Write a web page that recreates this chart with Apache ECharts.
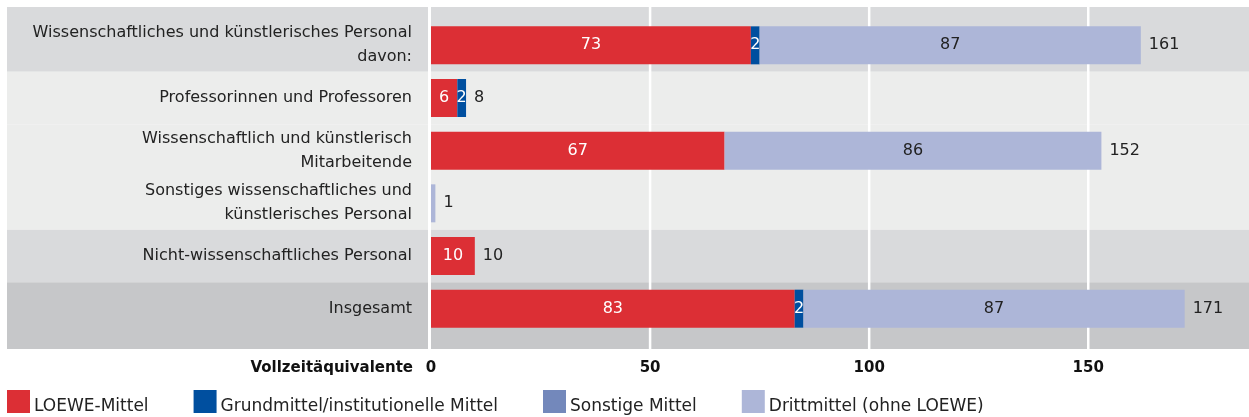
<!DOCTYPE html>
<html>
<head>
<meta charset="utf-8">
<script src="https://cdn.jsdelivr.net/npm/echarts@6/dist/echarts.min.js"></script>
<style>
    html, body { margin: 0; padding: 0; background: #fff; }
    #chart { width: 1249px; height: 417px; }
</style>
</head>
<body>
<div id="chart"></div>
<script>
const categories = [
    'Wissenschaftliches und künstlerisches Personal\ndavon:',
    'Professorinnen und Professoren',
    'Wissenschaftlich und künstlerisch\nMitarbeitende',
    'Sonstiges wissenschaftliches und\nkünstlerisches Personal',
    'Nicht-wissenschaftliches Personal',
    'Insgesamt'
];
const seriesNames = ['LOEWE-Mittel', 'Grundmittel/institutionelle Mittel', 'Sonstige Mittel', 'Drittmittel (ohne LOEWE)'];
const loewe = [73, 6, 67, null, 10, 83];
const grundmittel = [2, 2, null, null, null, 2];
const sonstige = [null, null, null, null, null, null];
const drittmittel = [87, null, 86, 1, null, 87];
const totals = [161, 8, 152, 1, 10, 171];
const xTicks = [0, 50, 100, 150];

const font = '"DejaVu Sans", sans-serif';
const bandColors = ['#d9dadc', '#ecedec', '#ecedec', '#ecedec', '#d9dadc', '#c6c7c9'];

const segLabel = (color, minVal) => ({
    show: true,
    position: 'inside',
    color: color,
    fontFamily: font,
    fontSize: 16,
    formatter: (p) => (p.value >= minVal ? p.value : '')
});

let option = {
    backgroundColor: '#fff',
    animation: false,
    textStyle: { fontFamily: font },
    grid: {
        left: 431,
        right: 0,
        top: 19,
        bottom: 82,
        containLabel: false
    },
    legend: {
        left: 7,
        top: 390,
        padding: 0,
        icon: 'rect',
        itemWidth: 23,
        itemHeight: 23,
        itemGap: 45,
        data: seriesNames,
        formatter: (name) => '{t|' + name + '}',
        textStyle: {
            fontFamily: font,
            fontSize: 17,
            color: '#222',
            rich: {
                t: {
                    fontFamily: font,
                    fontSize: 17,
                    color: '#222',
                    padding: [10, 0, 0, -1]
                }
            }
        }
    },
    xAxis: {
        type: 'value',
        min: 0,
        max: 186,
        interval: 50,
        name: 'Vollzeitäquivalente',
        nameLocation: 'start',
        nameGap: 18,
        nameTextStyle: {
            fontFamily: font,
            fontSize: 15,
            fontWeight: 'bold',
            color: '#111',
            verticalAlign: 'top',
            padding: [26, 0, 0, 0]
        },
        axisLine: { show: false },
        axisTick: { show: false },
        splitLine: { show: false },
        axisLabel: {
            margin: 26,
            fontFamily: font,
            fontSize: 15,
            fontWeight: 'bold',
            color: '#111',
            formatter: (v) => (xTicks.indexOf(v) >= 0 ? v : '')
        }
    },
    yAxis: {
        type: 'category',
        inverse: true,
        data: categories,
        axisLine: { show: false },
        axisTick: { show: false },
        axisLabel: {
            margin: 19,
            fontFamily: font,
            fontSize: 16,
            lineHeight: 24,
            color: '#222',
            align: 'right'
        }
    },
    series: [
        {
            name: seriesNames[0], type: 'bar', stack: 'a', barWidth: 38,
            itemStyle: { color: '#dc2f35' },
            label: segLabel('#fff', 1),
            data: loewe
        },
        {
            name: seriesNames[1], type: 'bar', stack: 'a', barWidth: 38,
            itemStyle: { color: '#004f9f' },
            label: segLabel('#fff', 1),
            data: grundmittel
        },
        {
            name: seriesNames[2], type: 'bar', stack: 'a', barWidth: 38,
            itemStyle: { color: '#7388bb' },
            label: segLabel('#fff', 1),
            data: sonstige
        },
        {
            name: seriesNames[3], type: 'bar', stack: 'a', barWidth: 38,
            itemStyle: { color: '#adb6d8' },
            label: segLabel('#222', 2),
            data: drittmittel
        },
        {
            name: 'Gesamt', type: 'bar', stack: 'a', barWidth: 38,
            itemStyle: { color: 'transparent' },
            label: {
                show: true,
                position: 'right',
                distance: 8,
                color: '#222',
                fontFamily: font,
                fontSize: 16,
                formatter: (p) => totals[p.dataIndex]
            },
            data: totals.map(() => 0)
        }
    ]
};

const chartInit = () => {
    let myChart = echarts.init(document.getElementById('chart'));
    myChart.setOption(option);

    // background bands + white gridlines, positioned from the axes
    const ys = categories.map((c, i) => myChart.convertToPixel({ yAxisIndex: 0 }, i));
    const step = ys[1] - ys[0];
    const x0 = myChart.convertToPixel({ xAxisIndex: 0 }, 0);
    const elements = [];
    ys.forEach((y, i) => {
        let top = y - step / 2;
        let bottom = y + step / 2;
        if (i === 0) top -= 12;
        if (i === ys.length - 1) bottom += 14;
        elements.push({
            type: 'rect', silent: true, z: -10,
            shape: { x: 7, y: top, width: x0 - 3 - 7, height: bottom - top },
            style: { fill: bandColors[i] }
        });
        elements.push({
            type: 'rect', silent: true, z: -10,
            shape: { x: x0, y: top, width: 1249 - x0, height: bottom - top },
            style: { fill: bandColors[i] }
        });
    });
    const gTop = ys[0] - step / 2 - 12;
    const gBottom = ys[ys.length - 1] + step / 2 + 14;
    xTicks.slice(1).forEach((v) => {
        const x = myChart.convertToPixel({ xAxisIndex: 0 }, v);
        elements.push({
            type: 'line', silent: true, z: -5,
            shape: { x1: x, y1: gTop, x2: x, y2: gBottom },
            style: { stroke: '#fff', lineWidth: 2.5 }
        });
    });
    myChart.setOption({ graphic: { elements: elements } });
};

chartInit();
</script>
</body>
</html>
